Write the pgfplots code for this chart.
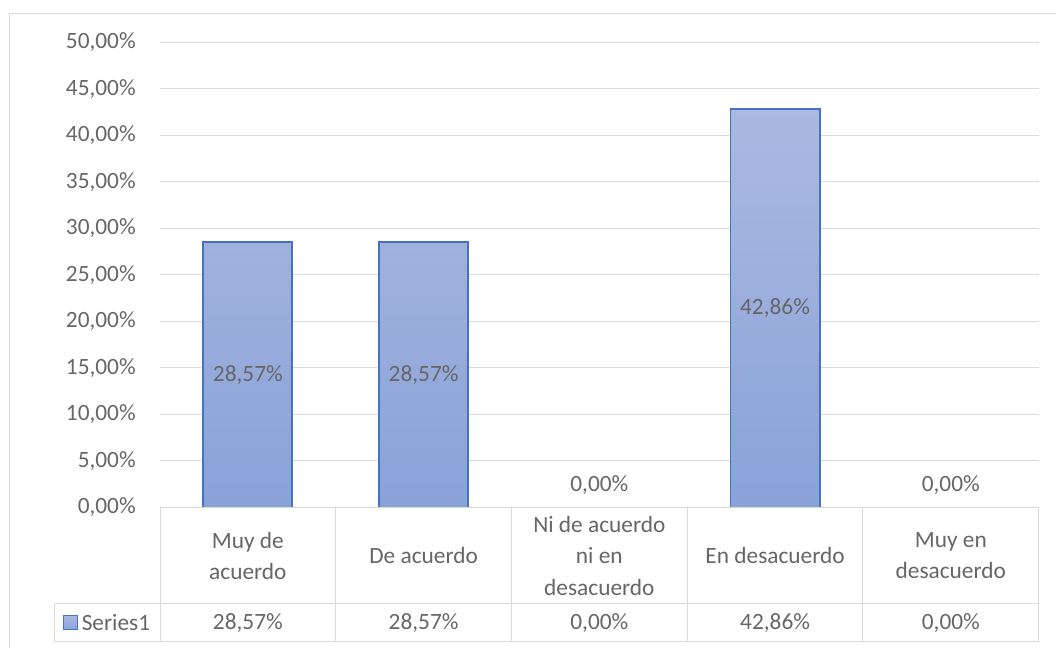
\documentclass[border=0pt]{standalone}
\usepackage{pgfplots}
\pgfplotsset{compat=1.18}
\usepackage{fontspec}
\setmainfont{Carlito}
\definecolor{gridc}{HTML}{D9D9D9}
\definecolor{txt}{HTML}{666666}
\definecolor{barline}{HTML}{4472C4}
\definecolor{bartop}{HTML}{AAB9E1}
\definecolor{barbot}{HTML}{8AA2D8}
\begin{document}
\begin{tikzpicture}[x=0.75pt,y=0.75pt,font=\fontsize{17.5}{23.5}\selectfont,text=txt]
\path[use as bounding box] (0,0) rectangle (1056,648);
\draw[gridc,line width=0.75pt] (9.5,-2) -- (9.5,634.5) -- (1058,634.5);
\begin{axis}[
  at={(120pt,105.375pt)}, anchor=south west,
  scale only axis, width=659pt, height=348.9pt,
  xmin=-0.5, xmax=4.5, ymin=0, ymax=50,
  ytick={0,5,10,15,20,25,30,35,40,45,50},
  yticklabels={{0,00\%},{5,00\%},{10,00\%},{15,00\%},{20,00\%},{25,00\%},{30,00\%},{35,00\%},{40,00\%},{45,00\%},{50,00\%}},
  xtick=\empty,
  axis line style={draw=none},
  major tick length=0pt,
  ymajorgrids,
  grid style={gridc,line width=0.75pt},
  yticklabel style={anchor=east,inner sep=0pt,xshift=-18pt,text=txt,font=\fontsize{17.5}{21}\selectfont},
  clip=false,
  unbounded coords=discard,
]
\addplot[ybar, bar width=0.507, draw=barline, line width=1.4pt,
  top color=bartop, bottom color=barbot,
  y filter/.expression={y<=0 ? nan : y}]
  coordinates {(0,28.57) (1,28.57) (2,0) (3,42.86) (4,0)};
\addplot[draw=none, mark=none, nodes near coords, point meta=explicit symbolic,
  every node near coord/.style={anchor=center,inner sep=0pt,text=txt,font=\fontsize{17.5}{21}\selectfont}]
  coordinates {(0,14.285) [{28,57\%}] (1,14.285) [{28,57\%}] (2,2.37) [{0,00\%}] (3,21.43) [{42,86\%}] (4,2.37) [{0,00\%}]};
\end{axis}
% data table
\draw[gridc,line width=0.75pt] (160,140.5) -- (1038.7,140.5);
\draw[gridc,line width=0.75pt] (54.5,44) -- (1038.7,44);
\draw[gridc,line width=0.75pt] (54.5,6) -- (1038.7,6);
\draw[gridc,line width=0.75pt] (54.5,6) -- (54.5,44);
\foreach \xx in {160,335.74,511.48,687.22,862.96,1038.7}
  \draw[gridc,line width=0.75pt] (\xx,6) -- (\xx,140.5);
\node[align=center,inner sep=0pt] at (247.87,92.25) {Muy de\\acuerdo};
\node[align=center,inner sep=0pt] at (423.61,92.25) {De acuerdo};
\node[align=center,inner sep=0pt] at (599.35,92.25) {Ni de acuerdo\\ni en\\desacuerdo};
\node[align=center,inner sep=0pt] at (775.09,92.25) {En desacuerdo};
\node[align=center,inner sep=0pt] at (950.83,92.25) {Muy en\\desacuerdo};
\node[inner sep=0pt] at (247.87,25) {28,57\%};
\node[inner sep=0pt] at (423.61,25) {28,57\%};
\node[inner sep=0pt] at (599.35,25) {0,00\%};
\node[inner sep=0pt] at (775.09,25) {42,86\%};
\node[inner sep=0pt] at (950.83,25) {0,00\%};
\draw[barline,line width=0.75pt,top color=bartop,bottom color=barbot] (63,18) rectangle (77,32.5);
\node[anchor=west,inner sep=0pt] at (81.5,25) {Series1};
\end{tikzpicture}
\end{document}
